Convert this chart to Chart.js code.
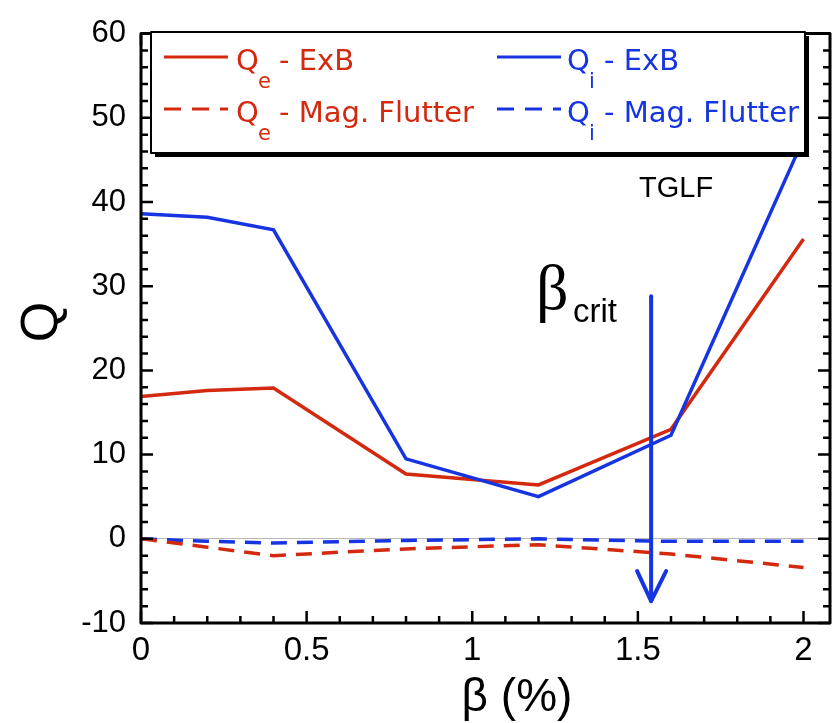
<!DOCTYPE html>
<html>
<head>
<meta charset="utf-8">
<script src="https://cdn.jsdelivr.net/npm/chart.js@4/dist/chart.umd.min.js"></script>
<style>
  html, body { margin: 0; padding: 0; background: #fff; }
  canvas { display: block; }
</style>
</head>
<body>
<canvas id="cv" width="832" height="723"></canvas>
<script>
// beta (%) values where the runs were done
const beta = [0, 0.2, 0.4, 0.8, 1.2, 1.6, 2.0];
const qeExB = [16.9, 17.6, 17.9, 7.7, 6.4, 13.0, 35.6];
const qiExB = [38.6, 38.2, 36.7, 9.5, 5.0, 12.3, 47.5];
const qeFlutter = [0, -1.0, -2.0, -1.2, -0.7, -1.8, -3.4];
const qiFlutter = [0, -0.3, -0.5, -0.2, 0, -0.3, -0.3];

const xTicks = [0, 0.5, 1, 1.5, 2];
const yTicks = [-10, 0, 10, 20, 30, 40, 50, 60];

// beta_crit arrow (data coords)
const critBeta = 1.54;
const critFrom = 28.8;
const critTo = -7.4;

const RED = '#d3290f';
const BLUE = '#1634e0';

const pts = ys => beta.map((b, i) => ({ x: b, y: ys[i] }));

const framePlugin = {
  id: 'frame',
  afterDatasetsDraw(chart) {
    const { ctx, chartArea: a, scales: { x, y } } = chart;
    ctx.save();

    // arrow
    const ax = x.getPixelForValue(critBeta);
    const y0 = y.getPixelForValue(critFrom), y1 = y.getPixelForValue(critTo);
    ctx.strokeStyle = BLUE; ctx.lineWidth = 4; ctx.lineCap = 'round'; ctx.lineJoin = 'round';
    ctx.beginPath(); ctx.moveTo(ax, y0); ctx.lineTo(ax, y1); ctx.stroke();
    ctx.beginPath(); ctx.moveTo(ax - 14, y1 - 30); ctx.lineTo(ax, y1); ctx.lineTo(ax + 15, y1 - 30); ctx.stroke();

    // frame + inward ticks
    ctx.strokeStyle = '#000'; ctx.lineWidth = 3; ctx.lineCap = 'butt';
    ctx.strokeRect(a.left, a.top, a.right - a.left, a.bottom - a.top);
    ctx.lineWidth = 2.5;
    ctx.beginPath();
    for (let k = 0; k <= 20; k++) {
      const v = k / 10, px = x.getPixelForValue(v), len = k % 5 === 0 ? 12 : 7;
      ctx.moveTo(px, a.bottom); ctx.lineTo(px, a.bottom - len);
      ctx.moveTo(px, a.top); ctx.lineTo(px, a.top + len);
    }
    for (let v = -10; v <= 60; v += 2) {
      const py = y.getPixelForValue(v), len = v % 10 === 0 ? 12 : 7;
      ctx.moveTo(a.left, py); ctx.lineTo(a.left + len, py);
      ctx.moveTo(a.right, py); ctx.lineTo(a.right - len, py);
    }
    ctx.stroke();

    // legend box with shadow
    const L = 151, T = 32, W = 654, H = 121;
    ctx.fillStyle = '#000';
    ctx.fillRect(L + 4, T + 4, W, H);
    ctx.fillStyle = '#fff';
    ctx.fillRect(L, T, W, H);
    ctx.lineWidth = 2; ctx.strokeStyle = '#000';
    ctx.strokeRect(L, T, W, H);

    const entry = (x0, yb, color, dash, sub, txt, qx, sx, tx) => {
      ctx.strokeStyle = color; ctx.lineWidth = 3;
      ctx.setLineDash(dash);
      ctx.beginPath(); ctx.moveTo(x0, yb - 13); ctx.lineTo(x0 + 64, yb - 13); ctx.stroke();
      ctx.setLineDash([]);
      ctx.fillStyle = color; ctx.textBaseline = 'alphabetic'; ctx.textAlign = 'left';
      ctx.font = '29px "DejaVu Sans"';
      ctx.fillText('Q', qx, yb);
      ctx.fillText(txt, tx, yb);
      ctx.font = '21px "DejaVu Sans"';
      ctx.fillText(sub, sx, yb + 18);
    };
    entry(164, 70, RED, [], 'e', '- ExB', 236, 258, 279);
    entry(497, 70, BLUE, [], 'i', '- ExB', 567, 589, 604);
    entry(164, 122, RED, [17, 11], 'e', '- Mag. Flutter', 236, 258, 279);
    entry(497, 122, BLUE, [17, 11], 'i', '- Mag. Flutter', 567, 589, 604);

    // annotations
    ctx.fillStyle = '#000';
    ctx.font = '29px "Liberation Sans"';
    ctx.fillText('TGLF', 639, 197);
    ctx.font = '64px "Liberation Serif"';
    ctx.fillText('β', 536, 309);
    ctx.font = '33px "Liberation Sans"';
    ctx.fillText('crit', 573, 322);

    // axis titles
    ctx.textAlign = 'center';
    ctx.font = '46px "Liberation Sans"';
    ctx.fillText('β (%)', 517, 711);
    ctx.save();
    ctx.translate(57, 322); ctx.rotate(-Math.PI / 2);
    ctx.font = '52px "Liberation Sans"';
    ctx.fillText('Q', 0, 0);
    ctx.restore();

    ctx.restore();
  }
};

new Chart(document.getElementById('cv'), {
  type: 'line',
  data: {
    datasets: [
      { label: 'Qe - Mag. Flutter', data: pts(qeFlutter), borderColor: RED, borderDash: [16, 10], borderWidth: 3.5 },
      { label: 'Qi - Mag. Flutter', data: pts(qiFlutter), borderColor: BLUE, borderDash: [16, 10], borderWidth: 3.5 },
      { label: 'Qi - ExB', data: pts(qiExB), borderColor: BLUE, borderWidth: 3.5 },
      { label: 'Qe - ExB', data: pts(qeExB), borderColor: RED, borderWidth: 3.5 }
    ]
  },
  options: {
    responsive: false,
    devicePixelRatio: 1,
    animation: false,
    elements: { point: { radius: 0 }, line: { tension: 0, fill: false } },
    layout: { padding: { top: 26, right: 2, left: 0, bottom: 0 } },
    plugins: { legend: { display: false }, tooltip: { enabled: false } },
    scales: {
      x: {
        type: 'linear', min: 0, max: 2.08,
        afterBuildTicks: s => { s.ticks = xTicks.map(v => ({ value: v })); },
        afterFit: s => { s.height = 100; },
        grid: { display: false, drawTicks: false },
        border: { display: false },
        ticks: { color: '#000', font: { family: 'Liberation Sans', size: 33 }, padding: 8, maxRotation: 0, autoSkip: false, callback: v => String(v) }
      },
      y: {
        type: 'linear', min: -10, max: 60,
        afterBuildTicks: s => { s.ticks = yTicks.map(v => ({ value: v })); },
        afterFit: s => { s.width = 141; },
        grid: { drawTicks: false, lineWidth: 1, color: c => c.tick && c.tick.value === 0 ? '#b8b8b8' : 'rgba(0,0,0,0)' },
        border: { display: false },
        ticks: { color: '#000', font: { family: 'Liberation Sans', size: 31 }, padding: 15, callback: v => String(v) }
      }
    }
  },
  plugins: [framePlugin]
});
</script>
</body>
</html>
